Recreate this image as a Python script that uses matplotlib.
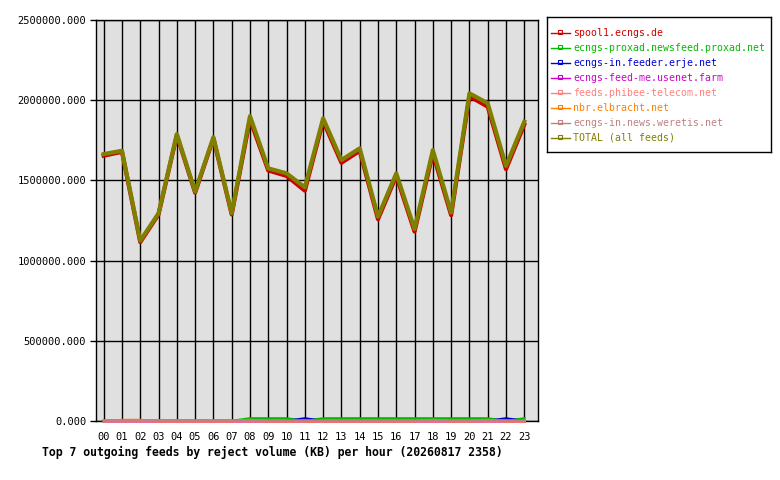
import matplotlib
matplotlib.use("Agg")
import matplotlib.pyplot as plt
from matplotlib.lines import Line2D

hours = ["%02d" % h for h in range(24)]

feeds = ["spool1.ecngs.de", "ecngs-proxad.newsfeed.proxad.net",
         "ecngs-in.feeder.erje.net", "ecngs-feed-me.usenet.farm",
         "feeds.phibee-telecom.net", "nbr.elbracht.net",
         "ecngs-in.news.weretis.net", "TOTAL (all feeds)"]
colors = ["#cc0000", "#00bb00", "#0000cc", "#cc00cc",
          "#ff8080", "#ff8000", "#c08080", "#808000"]

total = [1664000, 1685000, 1124000, 1295000, 1789000, 1430000, 1769000, 1295000,
         1901000, 1575000, 1544000, 1457000, 1887000, 1627000, 1700000, 1274000,
         1544000, 1197000, 1689000, 1299000, 2043000, 1981000, 1590000, 1866000]
spool1 = [1654000, 1678000, 1115000, 1288000, 1782000, 1423000, 1762000, 1288000,
          1880000, 1562000, 1528000, 1436000, 1870000, 1610000, 1684000, 1258000,
          1528000, 1181000, 1668000, 1283000, 2024000, 1960000, 1570000, 1848000]
proxad = [0, 0, 0, 0, 0, 0, 0, 0,
          16000, 16000, 16000, 0, 16000, 16000, 16000, 16000,
          16000, 16000, 16000, 16000, 16000, 16000, 0, 16000]
erje = [0] * 11 + [16000] + [0] * 10 + [16000, 0]
usenet_farm = [0] * 24
phibee = [0] * 24
elbracht = [0, 6000, 6000, 0, 0, 0, 0, 0,
            6000, 0, 0, 0, 0, 0, 0, 0,
            0, 0, 6000, 0, 0, 6000, 0, 0]
weretis = [3500] * 24

series = [spool1, proxad, erje, usenet_farm, phibee, elbracht, weretis, total]

W, H = 780, 480
fig = plt.figure(figsize=(7.8, 4.8), dpi=100)
ax = fig.add_axes([96 / W, 1 - 421 / H, 442 / W, 401 / H])
ax.set_facecolor("#e0e0e0")

x = list(range(24))
for i, (vals, col) in enumerate(zip(series, colors)):
    lw = 3.0 if i in (0, 7) else 1.8
    ax.plot(x, vals, color=col, lw=lw, solid_joinstyle="round",
            clip_on=(i in (0, 7)), zorder=3 + i)

ax.set_xlim(-0.42, 23.75)
ax.set_ylim(0, 2500000)
ax.set_xticks(x)
ax.set_xticklabels(hours, family="DejaVu Sans Mono", fontsize=7.5)
ax.set_yticks([0, 500000, 1000000, 1500000, 2000000, 2500000])
ax.set_yticklabels(["%.3f" % v for v in ax.get_yticks()],
                   family="DejaVu Sans Mono", fontsize=7.5)
ax.tick_params(axis="x", length=0, pad=8)
ax.tick_params(axis="y", length=4, width=1, pad=3)
ax.grid(True, color="black", lw=1)
ax.set_axisbelow(True)
for s in ax.spines.values():
    s.set_linewidth(1)

fig.text(42 / W, 1 - 452 / H,
         "Top 7 outgoing feeds by reject volume (KB) per hour (20260817 2358)",
         family="DejaVu Sans Mono", fontweight="bold", fontsize=8.3,
         ha="left", va="center")

# legend box drawn by hand, in pixel positions
lg = fig.add_axes([547 / W, 1 - 152 / H, 224 / W, 135 / H])
lg.set_xlim(547, 771)
lg.set_ylim(152, 17)
lg.set_xticks([])
lg.set_yticks([])
for s in lg.spines.values():
    s.set_linewidth(1)
for i, (name, col) in enumerate(zip(feeds, colors)):
    yy = 33 + i * 15
    lg.add_line(Line2D([551, 570], [yy, yy], color=col, lw=1))
    lg.plot([560], [yy - 1], marker="s", ms=2.5, mfc="none", mec=col, mew=0.8)
    lg.text(573, yy, name, color=col, family="DejaVu Sans Mono",
            fontsize=7.15, va="center", ha="left")

fig.savefig("out.png", dpi=100)
